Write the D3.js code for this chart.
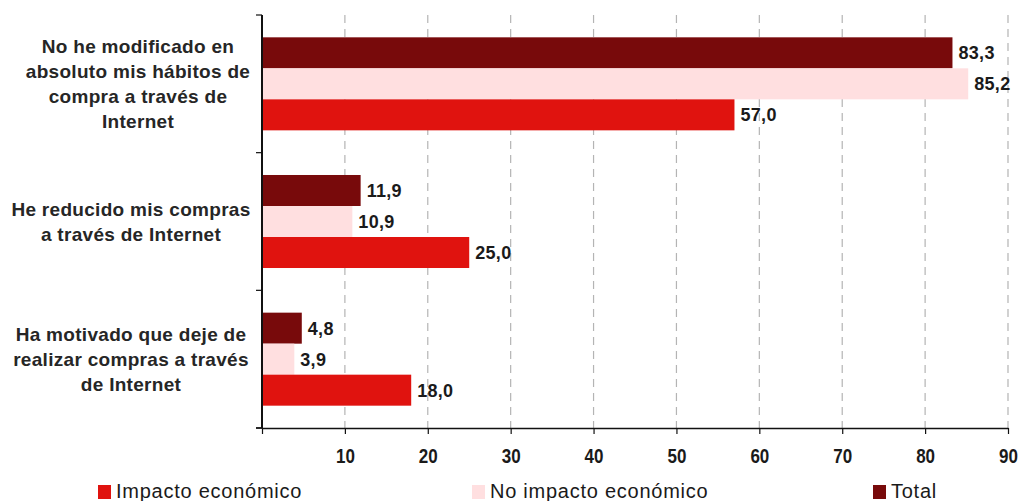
<!DOCTYPE html>
<html>
<head>
<meta charset="utf-8">
<script src="https://cdn.jsdelivr.net/npm/d3@7"></script>
<style>
  html, body { margin: 0; padding: 0; background: #fff; }
  svg { display: block; }
</style>
</head>
<body>
<svg id="chart" width="1020" height="501"></svg>
<script>
// Categories (top to bottom), each label split into display lines
const categories = [
  "No he modificado en absoluto mis hábitos de compra a través de Internet",
  "He reducido mis compras a través de Internet",
  "Ha motivado que deje de realizar compras a través de Internet"
];
const categoryLines = [
  ["No he modificado en", "absoluto mis hábitos de", "compra a través de", "Internet"],
  ["He reducido mis compras", "a través de Internet"],
  ["Ha motivado que deje de", "realizar compras a través", "de Internet"]
];

// Series (drawn top to bottom within each group)
const seriesNames = ["Total", "No impacto económico", "Impacto económico"];
const totalValues = [83.3, 11.9, 4.8];
const noImpactoValues = [85.2, 10.9, 3.9];
const impactoValues = [57.0, 25.0, 18.0];

const xTicks = [10, 20, 30, 40, 50, 60, 70, 80, 90];
const legendOrder = ["Impacto económico", "No impacto económico", "Total"];

const colors = {
  "Total": "#780a0b",
  "No impacto económico": "#ffdfe0",
  "Impacto económico": "#e0130f"
};
const valuesBySeries = {
  "Total": totalValues,
  "No impacto económico": noImpactoValues,
  "Impacto económico": impactoValues
};

const svg = d3.select("#chart");
const plot = { left: 262, right: 1008, top: 15, bottom: 428 };

const x = d3.scaleLinear().domain([0, 90]).range([plot.left, plot.right]);
const y = d3.scaleBand().domain(categories).range([plot.top, plot.bottom]).padding(0);
const ySub = d3.scaleBand().domain(seriesNames).range([0, y.bandwidth()])
  .paddingInner(0).paddingOuter(0.72);

// Dashed vertical gridlines
svg.append("g")
  .selectAll("line")
  .data(xTicks)
  .join("line")
  .attr("x1", d => x(d)).attr("x2", d => x(d))
  .attr("y1", plot.top).attr("y2", plot.bottom)
  .attr("stroke", "#b4b4b4")
  .attr("stroke-width", 1.2)
  .attr("stroke-dasharray", "8,6");

// Bars
const rows = [];
categories.forEach((c, i) => {
  seriesNames.forEach(s => rows.push({ cat: c, series: s, value: valuesBySeries[s][i] }));
});

const groups = svg.append("g");
groups.selectAll("rect")
  .data(rows)
  .join("rect")
  .attr("x", x(0))
  .attr("y", d => y(d.cat) + ySub(d.series))
  .attr("width", d => x(d.value) - x(0))
  .attr("height", ySub.bandwidth())
  .attr("fill", d => colors[d.series]);

// Value labels
const fmt = v => d3.format(".1f")(v).replace(".", ",");
groups.selectAll("text")
  .data(rows)
  .join("text")
  .attr("x", d => x(d.value) + 6)
  .attr("y", d => y(d.cat) + ySub(d.series) + ySub.bandwidth() / 2)
  .attr("dy", "0.36em")
  .attr("font-family", "Liberation Sans, Arial, sans-serif")
  .attr("font-weight", "bold")
  .attr("font-size", 18)
  .attr("letter-spacing", 0.3)
  .attr("fill", "#1a1a1a")
  .text(d => fmt(d.value));

// X axis
const xAxis = svg.append("g")
  .attr("transform", `translate(0,${plot.bottom})`)
  .call(d3.axisBottom(x).tickValues([0, ...xTicks]).tickSize(6).tickSizeOuter(0).tickFormat(d => d === 0 ? "" : d));
xAxis.select(".domain").attr("stroke", "#111").attr("stroke-width", 1.5);
xAxis.selectAll(".tick line").attr("stroke", "#111").attr("stroke-width", 1.2);
xAxis.selectAll(".tick text")
  .attr("y", 21)
  .attr("dy", "0.71em")
  .attr("transform", "scale(0.85,1)")
  .attr("font-family", "Liberation Sans, Arial, sans-serif")
  .attr("font-weight", "bold")
  .attr("font-size", 20)
  .attr("fill", "#1a1a1a");

// Y axis (category boundaries ticks)
const yBounds = [plot.top, ...categories.map(c => y(c) + y.bandwidth())];
const yAxis = svg.append("g");
yAxis.append("line")
  .attr("x1", plot.left).attr("x2", plot.left)
  .attr("y1", plot.top).attr("y2", plot.bottom)
  .attr("stroke", "#111").attr("stroke-width", 2);
yAxis.selectAll("line.tk")
  .data(yBounds)
  .join("line")
  .attr("class", "tk")
  .attr("x1", plot.left - 6).attr("x2", plot.left)
  .attr("y1", d => d).attr("y2", d => d)
  .attr("stroke", "#111").attr("stroke-width", 1.2);
svg.append("line")
  .attr("x1", plot.left - 6).attr("x2", plot.left)
  .attr("y1", plot.bottom).attr("y2", plot.bottom)
  .attr("stroke", "#111").attr("stroke-width", 1.5);

// Category labels
const lineH = 25;
const labelCenters = [138, 131, 131];
const catLabel = svg.append("g")
  .attr("font-family", "Liberation Sans, Arial, sans-serif")
  .attr("font-weight", "bold")
  .attr("font-size", 19)
  .attr("letter-spacing", 0.3)
  .attr("fill", "#262626")
  .attr("text-anchor", "middle");
categories.forEach((c, i) => {
  const lines = categoryLines[i];
  const cy = y(c) + y.bandwidth() / 2;
  const t = catLabel.append("text");
  lines.forEach((ln, j) => {
    t.append("tspan")
      .attr("x", labelCenters[i])
      .attr("y", cy + (j - (lines.length - 1) / 2) * lineH)
      .attr("dy", "0.36em")
      .text(ln);
  });
});

// Legend
const legendX = [98, 472, 873];
const legend = svg.append("g")
  .selectAll("g")
  .data(legendOrder)
  .join("g")
  .attr("transform", (d, i) => `translate(${legendX[i]},485)`);
legend.append("rect")
  .attr("width", 13).attr("height", 14)
  .attr("fill", d => colors[d]);
legend.append("text")
  .attr("x", 18)
  .attr("y", 13)
  .attr("font-family", "Liberation Sans, Arial, sans-serif")
  .attr("font-size", 20)
  .attr("letter-spacing", 0.75)
  .attr("fill", "#1a1a1a")
  .text(d => d);
</script>
</body>
</html>
